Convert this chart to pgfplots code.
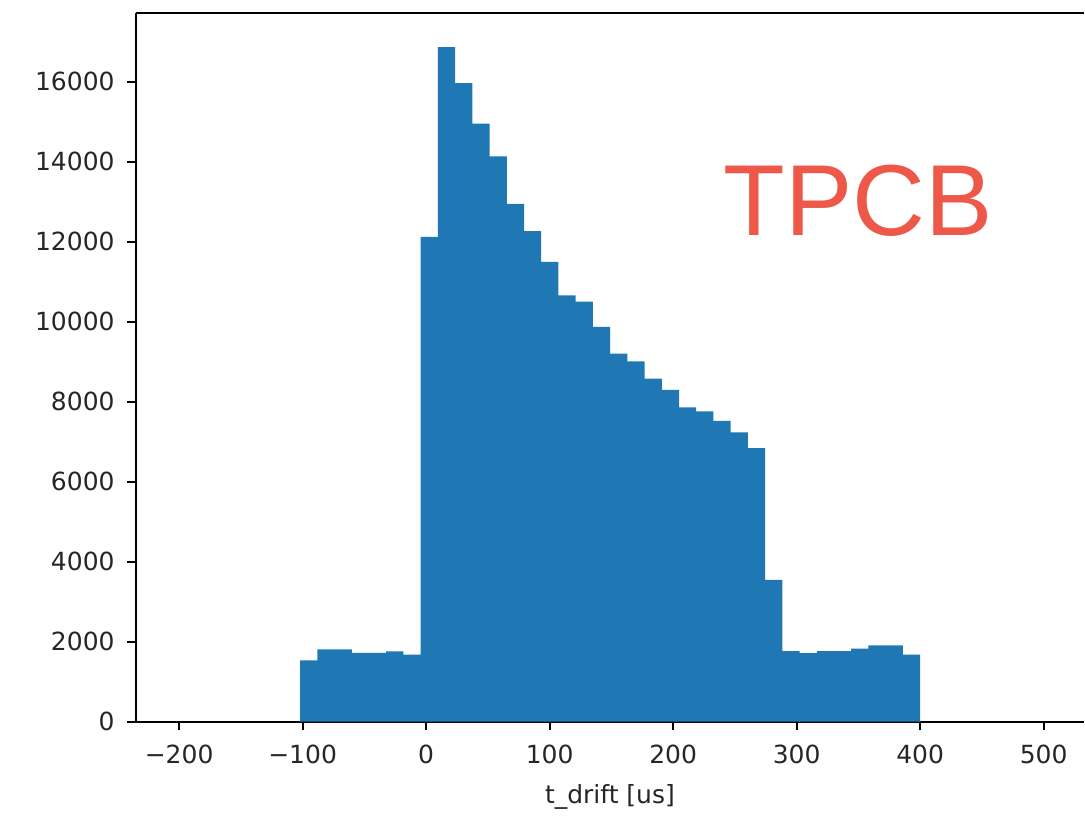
\documentclass[border=0pt]{standalone}
\usepackage{fontspec}
\setmainfont{DejaVu Sans}
\newfontfamily\labelfont{Liberation Sans}
\usepackage{pgfplots}
\pgfplotsset{compat=1.18}
\definecolor{histblue}{HTML}{1F77B4}
\definecolor{tpcbred}{RGB}{238,88,72}

\begin{document}
\begin{tikzpicture}
\begin{axis}[
  scale only axis,
  width=379.6pt, height=283.6pt,
  xmin=-235, xmax=532.7,
  ymin=0, ymax=17716,
  axis x line*=box, axis y line*=left,
  xtick pos=bottom, ytick pos=left,
  tick align=outside,
  major tick length=3.5pt,
  every tick/.style={black, line width=0.8pt},
  axis line style={black, line width=0.8pt},
  xtick={-200,-100,0,100,200,300,400,500},
  xticklabels={−200,−100,0,100,200,300,400,500},
  ytick={0,2000,4000,6000,8000,10000,12000,14000,16000},
  scaled y ticks=false,
  /pgf/number format/assume math mode=true,
  /pgf/number format/1000 sep={},
  tick label style={font=\fontsize{10}{12}\selectfont, text=black!85},
  xticklabel style={yshift=-2.2pt},
  yticklabel style={xshift=-1.5pt},
  xlabel={t\_drift [us]},
  xlabel style={font=\fontsize{10}{12}\selectfont, text=black!85, yshift=-1.5pt},
]
\addplot[ybar interval, fill=histblue, draw=none] coordinates {
  (-102.00,1530) (-88.06,1805) (-74.11,1805) (-60.17,1720) (-46.22,1720)
  (-32.28,1755) (-18.33,1672) (-4.39,12124) (9.56,16867) (23.50,15968)
  (37.44,14953) (51.39,14137) (65.33,12948) (79.28,12265) (93.22,11500)
  (107.17,10659) (121.11,10502) (135.06,9875) (149.00,9204) (162.94,9011)
  (176.89,8580) (190.83,8295) (204.78,7856) (218.72,7756) (232.67,7521)
  (246.61,7232) (260.56,6840) (274.50,3545) (288.44,1765) (302.39,1715)
  (316.33,1765) (330.28,1765) (344.22,1822) (358.17,1905) (372.11,1905)
  (386.06,1672) (400.00,1672)
};
\node[anchor=base west, inner sep=0pt, text=tpcbred,
  font=\labelfont\fontsize{40.4}{48}\selectfont] at (axis cs:240.7,12164) {TPCB};
\end{axis}
\path (current axis.south west) ++(-54.4pt,-36pt) coordinate (bbsw);
\path (current axis.north east) ++(0pt,5.3pt) coordinate (bbne);
\path (bbsw) rectangle (bbne);
\end{tikzpicture}
\end{document}
